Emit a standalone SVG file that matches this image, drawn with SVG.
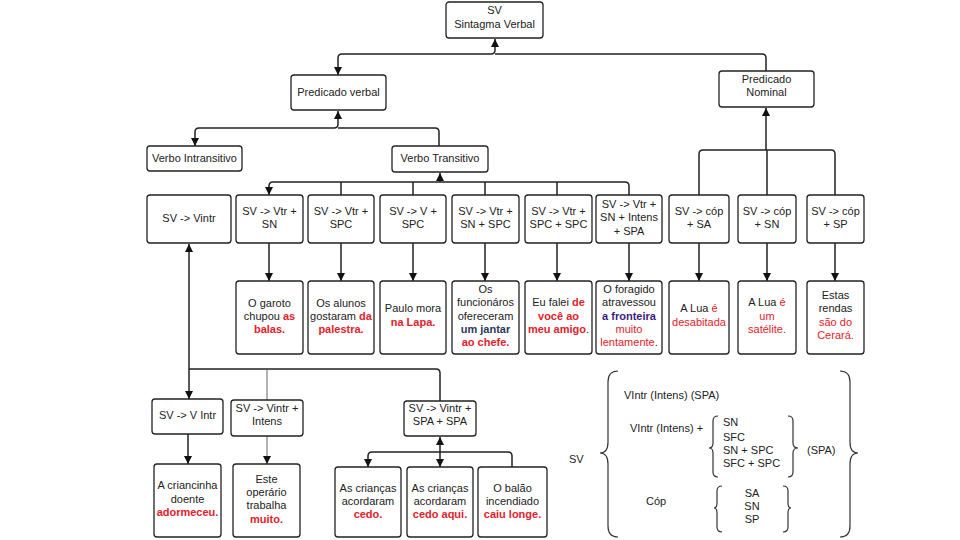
<svg xmlns="http://www.w3.org/2000/svg" width="960" height="540" viewBox="0 0 960 540">
<style>
.box{fill:#fff;stroke:#222;stroke-width:1.3}
.t{font-family:"Liberation Sans",Arial,sans-serif;font-size:11px;fill:#222;text-anchor:middle}
.f{font-family:"Liberation Sans",Arial,sans-serif;font-size:11px;fill:#222}
.rb{fill:#e3212b;font-weight:bold}
.rn{fill:#e3212b}
.bb{fill:#2c3a58;font-weight:bold}
.pb{fill:#3b1d80;font-weight:bold}
.c{fill:none;stroke:#222;stroke-width:1.5}
.thin{fill:none;stroke:#555;stroke-width:0.9}
.br{fill:none;stroke:#333;stroke-width:1.2}
</style>
<defs>
<marker id="ah" viewBox="0 0 10 10" refX="10" refY="5" markerWidth="8" markerHeight="9" markerUnits="userSpaceOnUse" orient="auto-start-reverse">
<path d="M0,0 L10,5 L0,10 z" fill="#111"/>
</marker>
</defs>
<rect width="960" height="540" fill="#fff"/>

<g id="connectors">
<path class="c" d="M495,39 V50 Q495,54 491,54 H342 Q338,54 338,58 V75" marker-start="url(#ah)" marker-end="url(#ah)"/>
<path class="c" d="M495,54 H762 Q766,54 766,58 V71"/>
<path class="c" d="M338,111 V124 Q338,128 334,128 H199 Q195,128 195,132 V146" marker-start="url(#ah)" marker-end="url(#ah)"/>
<path class="c" d="M338,128 H435 Q439,128 439,132 V146"/>
<path class="c" d="M440,173 V182" marker-start="url(#ah)"/>
<path class="c" d="M440,182 H273 Q269,182 269,186 V195" marker-end="url(#ah)"/>
<path class="c" d="M440,182 H625 Q629,182 629,186 V195"/>
<path class="c" d="M341,182 V195 M413,182 V195 M485,182 V195 M557,182 V195"/>
<path class="c" d="M269,243 V281" marker-end="url(#ah)"/>
<path class="c" d="M341,243 V281" marker-end="url(#ah)"/>
<path class="c" d="M413,243 V281" marker-end="url(#ah)"/>
<path class="c" d="M485,243 V281" marker-end="url(#ah)"/>
<path class="c" d="M557,243 V281" marker-end="url(#ah)"/>
<path class="c" d="M629,243 V281" marker-end="url(#ah)"/>
<path class="c" d="M699,243 V281" marker-end="url(#ah)"/>
<path class="c" d="M767,243 V281" marker-end="url(#ah)"/>
<path class="c" d="M835,243 V281" marker-end="url(#ah)"/>
<path class="c" d="M766,108 V150" marker-start="url(#ah)"/>
<path class="c" d="M699,195 V154 Q699,150 703,150 H831 Q835,150 835,154 V195 M767,150 V195"/>
<path class="c" d="M189,244 V399" marker-start="url(#ah)" marker-end="url(#ah)"/>
<path class="c" d="M189,369 H436 Q440,369 440,373 V401"/>
<path class="thin" d="M267,369 V400"/>
<path class="c" d="M188,434 V464" marker-end="url(#ah)"/>
<path class="thin" d="M267,436 V464" marker-end="url(#ah)"/>
<path class="c" d="M440,437 V467" marker-start="url(#ah)" marker-end="url(#ah)"/>
<path class="c" d="M368,467 V456 Q368,452 372,452 H508 Q512,452 512,456 V467" marker-start="url(#ah)"/>
</g>

<g id="n-sv"><rect class="box" x="446" y="2" width="97" height="36" rx="3"/>
<text class="t" x="494.5" y="14">SV</text><text class="t" x="494.5" y="28">Sintagma Verbal</text></g>
<g id="n-pv"><rect class="box" x="291" y="75" width="95" height="35" rx="3"/>
<text class="t" x="338.5" y="96">Predicado verbal</text></g>
<g id="n-pn"><rect class="box" x="719" y="71" width="95" height="36" rx="3"/>
<text class="t" x="766.5" y="83">Predicado</text><text class="t" x="766.5" y="96">Nominal</text></g>
<g id="n-vi"><rect class="box" x="147" y="146" width="95" height="25" rx="3"/>
<text class="t" x="194.5" y="162">Verbo Intransitivo</text></g>
<g id="n-vt"><rect class="box" x="392" y="146" width="96" height="26" rx="3"/>
<text class="t" x="440" y="162">Verbo Transitivo</text></g>

<g id="r2-1"><rect class="box" x="147" y="195" width="84" height="48" rx="3"/><text class="t" x="189" y="222">SV -&gt; Vintr</text></g>
<g id="r2-2"><rect class="box" x="236" y="195" width="67" height="48" rx="3"/><text class="t" x="269.5" y="215">SV -&gt; Vtr +</text><text class="t" x="269.5" y="228">SN</text></g>
<g id="r2-3"><rect class="box" x="308" y="195" width="66" height="48" rx="3"/><text class="t" x="341" y="215">SV -&gt; Vtr +</text><text class="t" x="341" y="228">SPC</text></g>
<g id="r2-4"><rect class="box" x="380" y="195" width="66" height="48" rx="3"/><text class="t" x="413" y="215">SV -&gt; V +</text><text class="t" x="413" y="228">SPC</text></g>
<g id="r2-5"><rect class="box" x="452" y="195" width="67" height="48" rx="3"/><text class="t" x="485.5" y="215">SV -&gt; Vtr +</text><text class="t" x="485.5" y="228">SN + SPC</text></g>
<g id="r2-6"><rect class="box" x="525" y="195" width="67" height="48" rx="3"/><text class="t" x="558.5" y="215">SV -&gt; Vtr +</text><text class="t" x="558.5" y="228">SPC + SPC</text></g>
<g id="r2-7"><rect class="box" x="596" y="195" width="66" height="48" rx="3"/><text class="t" x="629" y="208">SV -&gt; Vtr +</text><text class="t" x="629" y="221">SN + Intens</text><text class="t" x="629" y="235">+ SPA</text></g>
<g id="r2-8"><rect class="box" x="669" y="195" width="60" height="48" rx="3"/><text class="t" x="699" y="215">SV -&gt; cóp</text><text class="t" x="699" y="228">+ SA</text></g>
<g id="r2-9"><rect class="box" x="738" y="195" width="58" height="48" rx="3"/><text class="t" x="767" y="215">SV -&gt; cóp</text><text class="t" x="767" y="228">+ SN</text></g>
<g id="r2-10"><rect class="box" x="807" y="195" width="57" height="48" rx="3"/><text class="t" x="835.5" y="215">SV -&gt; cóp</text><text class="t" x="835.5" y="228">+ SP</text></g>

<g id="r3-1"><rect class="box" x="236" y="281" width="67" height="73" rx="3"/>
<text class="t" x="269.5" y="307">O garoto</text><text class="t" x="269.5" y="320">chupou <tspan class="rb">as</tspan></text><text class="t" x="269.5" y="333"><tspan class="rb">balas.</tspan></text></g>
<g id="r3-2"><rect class="box" x="308" y="281" width="66" height="73" rx="3"/>
<text class="t" x="341" y="307">Os alunos</text><text class="t" x="341" y="320">gostaram <tspan class="rb">da</tspan></text><text class="t" x="341" y="333"><tspan class="rb">palestra.</tspan></text></g>
<g id="r3-3"><rect class="box" x="380" y="281" width="66" height="73" rx="3"/>
<text class="t" x="413" y="312">Paulo mora</text><text class="t" x="413" y="326"><tspan class="rb">na Lapa.</tspan></text></g>
<g id="r3-4"><rect class="box" x="452" y="281" width="67" height="73" rx="3"/>
<text class="t" x="485.5" y="293">Os</text><text class="t" x="485.5" y="306">funcionáros</text><text class="t" x="485.5" y="320">ofereceram</text><text class="t" x="485.5" y="333"><tspan class="bb">um jantar</tspan></text><text class="t" x="485.5" y="346"><tspan class="rb">ao chefe.</tspan></text></g>
<g id="r3-5"><rect class="box" x="525" y="281" width="67" height="73" rx="3"/>
<text class="t" x="558.5" y="306">Eu falei <tspan class="rb">de</tspan></text><text class="t" x="558.5" y="320"><tspan class="rb">você ao</tspan></text><text class="t" x="558.5" y="333"><tspan class="rb">meu amigo</tspan>.</text></g>
<g id="r3-6"><rect class="box" x="596" y="281" width="66" height="73" rx="3"/>
<text class="t" x="629" y="293">O foragido</text><text class="t" x="629" y="306">atravessou</text><text class="t" x="629" y="320"><tspan class="pb">a fronteira</tspan></text><text class="t" x="629" y="333"><tspan class="rn">muito</tspan></text><text class="t" x="629" y="346"><tspan class="rn">lentamente</tspan>.</text></g>
<g id="r3-7"><rect class="box" x="669" y="281" width="60" height="73" rx="3"/>
<text class="t" x="699" y="312">A Lua <tspan class="rn">é</tspan></text><text class="t" x="699" y="326"><tspan class="rn">desabitada</tspan></text></g>
<g id="r3-8"><rect class="box" x="738" y="281" width="58" height="73" rx="3"/>
<text class="t" x="767" y="306">A Lua <tspan class="rn">é</tspan></text><text class="t" x="767" y="320"><tspan class="rn">um</tspan></text><text class="t" x="767" y="333"><tspan class="rn">satélite.</tspan></text></g>
<g id="r3-9"><rect class="box" x="807" y="281" width="57" height="73" rx="3"/>
<text class="t" x="835.5" y="299">Estas</text><text class="t" x="835.5" y="312">rendas</text><text class="t" x="835.5" y="326"><tspan class="rn">são do</tspan></text><text class="t" x="835.5" y="339"><tspan class="rn">Cerará.</tspan></text></g>

<g id="r4-1"><rect class="box" x="152" y="399" width="71" height="35" rx="3"/><text class="t" x="187.5" y="419">SV -&gt; V Intr</text></g>
<g id="r4-2"><rect class="box" x="231" y="400" width="72" height="36" rx="3"/><text class="t" x="267" y="412">SV -&gt; Vintr +</text><text class="t" x="267" y="425">Intens</text></g>
<g id="r4-3"><rect class="box" x="404" y="401" width="72" height="35" rx="3"/><text class="t" x="440" y="412">SV -&gt; Vintr +</text><text class="t" x="440" y="425">SPA + SPA</text></g>

<g id="r5-1"><rect class="box" x="154" y="464" width="67" height="73" rx="3"/>
<text class="t" x="187.5" y="489">A criancinha</text><text class="t" x="187.5" y="503">doente</text><text class="t" x="187.5" y="516"><tspan class="rb">adormeceu.</tspan></text></g>
<g id="r5-2"><rect class="box" x="233" y="464" width="67" height="73" rx="3"/>
<text class="t" x="266.5" y="483">Este</text><text class="t" x="266.5" y="496">operário</text><text class="t" x="266.5" y="509">trabalha</text><text class="t" x="266.5" y="523"><tspan class="rb">muito.</tspan></text></g>
<g id="r5-3"><rect class="box" x="335" y="467" width="66" height="70" rx="3"/>
<text class="t" x="368" y="492">As crianças</text><text class="t" x="368" y="505">acordaram</text><text class="t" x="368" y="518"><tspan class="rb">cedo.</tspan></text></g>
<g id="r5-4"><rect class="box" x="407" y="467" width="66" height="70" rx="3"/>
<text class="t" x="440" y="492">As crianças</text><text class="t" x="440" y="505">acordaram</text><text class="t" x="440" y="518"><tspan class="rb">cedo aqui.</tspan></text></g>
<g id="r5-5"><rect class="box" x="478" y="467" width="69" height="70" rx="3"/>
<text class="t" x="512.5" y="492">O balão</text><text class="t" x="512.5" y="505">incendiado</text><text class="t" x="512.5" y="518"><tspan class="rb">caiu longe.</tspan></text></g>

<g id="formula">
<text class="f" x="569" y="463">SV</text>
<path class="br" d="M618,371 Q608,371 608,382 V442 Q608,453 600,453 Q608,453 608,464 V526 Q608,537 618,537"/>
<path class="br" d="M840,371 Q850,371 850,382 V442 Q850,453 858,453 Q850,453 850,464 V526 Q850,537 840,537"/>
<text class="f" x="624" y="399">VIntr (Intens) (SPA)</text>
<text class="f" x="630" y="432">VIntr (Intens) +</text>
<path class="br" d="M718,416 Q713,416 713,421 V443 Q713,448 709,448 Q713,448 713,453 V472 Q713,477 718,477"/>
<path class="br" d="M788,416 Q793,416 793,421 V443 Q793,448 798,448 Q793,448 793,453 V472 Q793,477 788,477"/>
<text class="f" x="723" y="426">SN</text>
<text class="f" x="723" y="441">SFC</text>
<text class="f" x="723" y="454">SN + SPC</text>
<text class="f" x="723" y="467">SFC + SPC</text>
<text class="f" x="807" y="454">(SPA)</text>
<text class="f" x="646" y="505">Cóp</text>
<path class="br" d="M722,486 Q717,486 717,491 V503 Q717,508 714,508 Q717,508 717,513 V527 Q717,532 722,532"/>
<path class="br" d="M783,486 Q788,486 788,491 V503 Q788,508 791,508 Q788,508 788,513 V527 Q788,532 783,532"/>
<text class="t" x="752" y="497">SA</text>
<text class="t" x="752" y="510">SN</text>
<text class="t" x="752" y="523">SP</text>
</g>
</svg>
